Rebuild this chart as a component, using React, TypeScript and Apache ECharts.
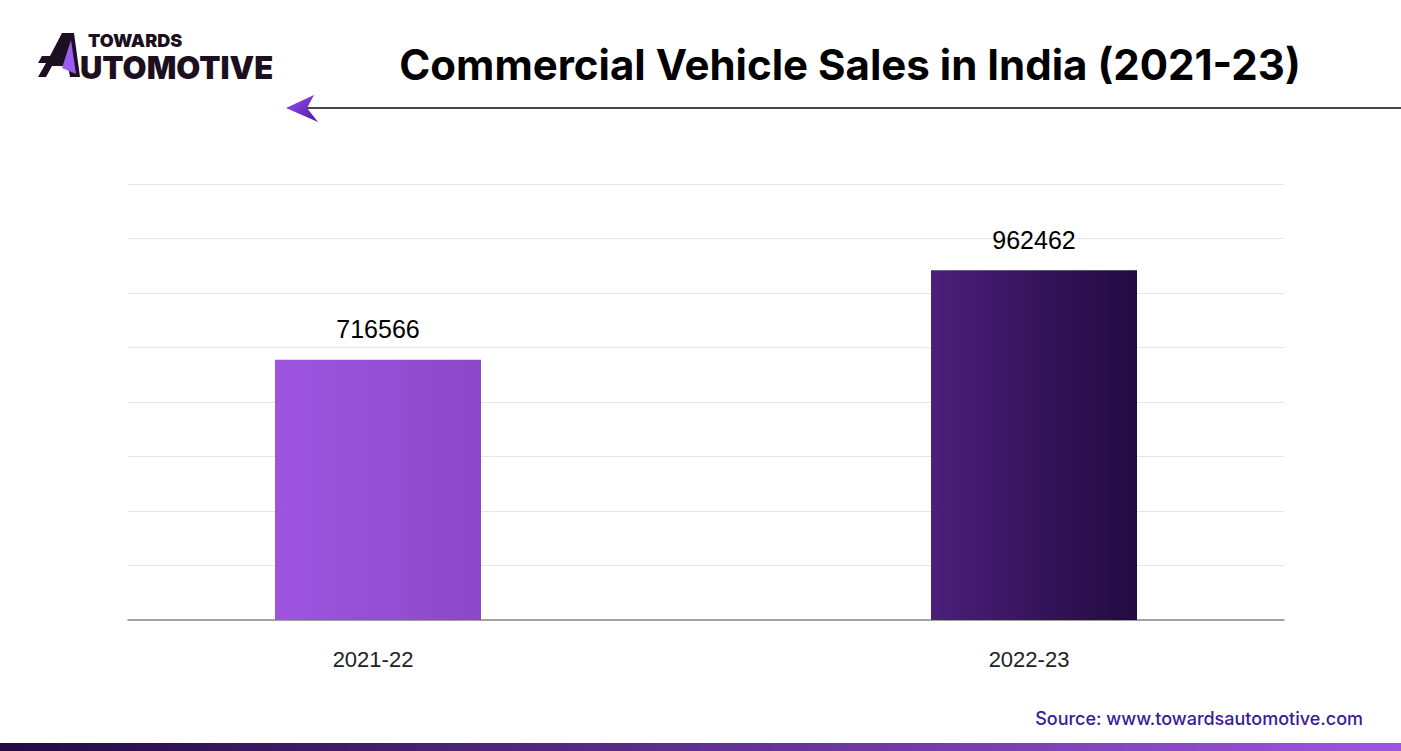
import React, { useEffect, useRef } from 'react';
import * as echarts from 'echarts';

const categories = ['2021-22', '2022-23'];
const sales = [716566, 962462];
const barGradients = [
  ['#9d55e0', '#8b48c8'],
  ['#4b1f7a', '#220a40'],
];
const yMax = 1200000;
const yInterval = 150000;

const titleText = 'Commercial Vehicle Sales in India (2021-23)';
const sourceText = 'Source: www.towardsautomotive.com';

export default function App() {
  const ref = useRef<HTMLDivElement>(null);
  useEffect(() => {
    document.body.style.margin = '0';
    const chart = echarts.init(ref.current!, null, { renderer: 'svg' });
    const lin = (a: string, b: string) =>
      new echarts.graphic.LinearGradient(0, 0, 1, 0, [
        { offset: 0, color: a },
        { offset: 1, color: b },
      ]);
    chart.setOption({
      animation: false,
      backgroundColor: '#ffffff',
      grid: [
        { left: 50, right: 39, top: 184, bottom: 131 },
        { left: 128, right: 117, top: 184, bottom: 131 },
      ],
      xAxis: [
        {
          type: 'category',
          gridIndex: 0,
          data: categories,
          axisLine: { show: false },
          axisTick: { show: false },
          axisLabel: {
            fontSize: 22,
            color: '#222',
            margin: 28,
            padding: [0, 10, 0, 0],
            fontFamily: "'Liberation Sans', Arial, sans-serif",
          },
        },
        {
          type: 'category',
          gridIndex: 1,
          data: categories,
          axisLine: { show: true, lineStyle: { color: '#8a8a8a', width: 1.5 } },
          axisTick: { show: false },
          axisLabel: { show: false },
        },
      ],
      yAxis: [
        {
          type: 'value',
          gridIndex: 0,
          min: 0,
          max: yMax,
          interval: yInterval,
          splitLine: { show: false },
          axisLabel: { show: false },
          axisLine: { show: false },
        },
        {
          type: 'value',
          gridIndex: 1,
          min: 0,
          max: yMax,
          interval: yInterval,
          splitLine: { show: true, lineStyle: { color: '#e6e6e6', width: 1 } },
          axisLabel: { show: false },
          axisLine: { show: false },
        },
      ],
      series: [
        {
          type: 'bar',
          xAxisIndex: 0,
          yAxisIndex: 0,
          barWidth: 206,
          z: 3,
          data: sales.map((v, i) => ({
            value: v,
            itemStyle: { color: lin(barGradients[i][0], barGradients[i][1]) },
          })),
          label: {
            show: true,
            position: 'top',
            distance: 18,
            fontSize: 25,
            color: '#000',
            fontFamily: "'Liberation Sans', Arial, sans-serif",
          },
        },
      ],
      graphic: [
        {
          type: 'text',
          style: {
            text: titleText,
            x: 850,
            y: 64,
            align: 'center',
            verticalAlign: 'middle',
            fontSize: 42,
            fontWeight: 'bold',
            fontFamily: 'Inter',
            fill: '#000',
          },
        },
        {
          type: 'line',
          shape: { x1: 305, y1: 108, x2: 1401, y2: 108 },
          style: { stroke: '#4a4458', lineWidth: 2 },
        },
        {
          type: 'polygon',
          shape: { points: [[286, 108], [314, 95], [307, 108], [318, 122]] },
          style: {
            fill: new echarts.graphic.LinearGradient(0, 0, 1, 1, [
              { offset: 0, color: '#9a4ff0' },
              { offset: 1, color: '#4a1aa8' },
            ]),
          },
        },
        // logo
        {
          type: 'polygon',
          shape: {
            points: [[62, 33], [74, 33], [80, 77], [70, 77], [68, 66], [52, 66], [46, 77], [38, 77], [46, 63], [38, 63], [42, 56], [50, 56]],
          },
          style: { fill: '#1c1020' },
        },
        {
          type: 'polygon',
          shape: { points: [[71, 40], [62, 68], [76, 74]] },
          style: { fill: '#9b5cf0' },
        },
        {
          type: 'text',
          style: {
            text: 'TOWARDS',
            x: 88,
            y: 40,
            verticalAlign: 'middle',
            fontSize: 18,
            lineHeight: 18,
            fontWeight: 900,
            fontFamily: 'Inter',
            fill: '#1c1020',
          },
        },
        {
          type: 'text',
          style: {
            text: 'UTOMOTIVE',
            x: 80,
            y: 67,
            verticalAlign: 'middle',
            fontSize: 31,
            lineHeight: 31,
            fontWeight: 900,
            fontFamily: 'Inter',
            fill: '#1c1020',
          },
        },
        {
          type: 'text',
          style: {
            text: sourceText,
            x: 1363,
            y: 718,
            align: 'right',
            verticalAlign: 'middle',
            fontSize: 18,
            fontWeight: 500,
            fontFamily: 'Inter',
            fill: '#3b1a9a',
          },
        },
        {
          type: 'rect',
          shape: { x: 0, y: 743, width: 1401, height: 8 },
          style: {
            fill: new echarts.graphic.LinearGradient(0, 0, 1, 0, [
              { offset: 0, color: '#230a42' },
              { offset: 1, color: '#9c55e0' },
            ]),
          },
        },
      ],
    });
    return () => chart.dispose();
  }, []);
  return <div ref={ref} style={{ width: 1401, height: 751 }} />;
}
